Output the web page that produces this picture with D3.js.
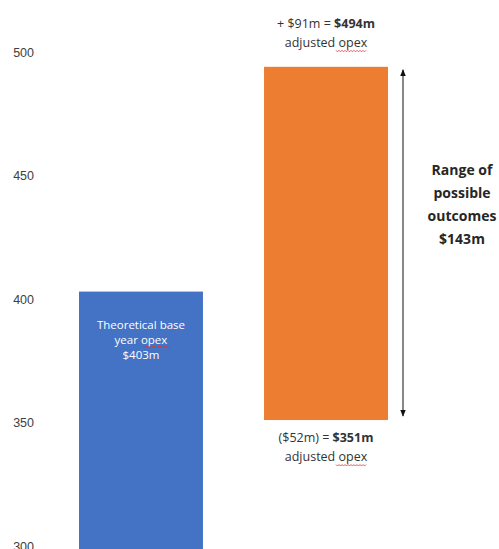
<!DOCTYPE html>
<html>
<head>
<meta charset="utf-8">
<script src="https://cdn.jsdelivr.net/npm/d3@7"></script>
<style>
  body { margin: 0; background: #fff; }
  svg { display: block; font-family: "Open Sans", "Liberation Sans", sans-serif; }
</style>
</head>
<body>
<svg id="chart" width="499" height="549"></svg>
<script>
var categories = ["Theoretical base year opex", "Adjusted opex range"];
var barLow = [null, 351];
var barHigh = [403, 494];
var tickValues = [300, 350, 400, 450, 500];
var rangeValue = 143;

var svg = d3.select("#chart"),
    width = 499,
    height = 549;

var y = d3.scaleLinear()
    .domain([300, 500])
    .range([546, 52]);

var x = d3.scaleBand()
    .domain(categories)
    .range([79, 388])
    .paddingInner(0.33)
    .paddingOuter(0);

// y axis, labels only
var axis = svg.append("g")
  .attr("transform", "translate(34,0)")
  .call(d3.axisLeft(y).tickValues(tickValues).tickSize(0).tickPadding(0));
axis.select(".domain").remove();
axis.selectAll("text")
  .attr("fill", "#404040")
  .attr("font-size", "12.5px")
  .attr("dy", "0.35em");

var colors = ["#4472C4", "#ED7D31"];

categories.forEach(function(c, i) {
  var top = y(barHigh[i]);
  var bottom = barLow[i] == null ? height : y(barLow[i]);
  svg.append("rect")
    .attr("x", x(c))
    .attr("y", top)
    .attr("width", x.bandwidth())
    .attr("height", bottom - top)
    .attr("fill", colors[i]);
});

function squiggle(g, x0, x1, yy) {
  var pts = [];
  for (var px = x0, k = 0; px <= x1; px += 1.5, k++) pts.push([px, yy + (k % 2 ? 1 : -0.5)]);
  g.append("path").attr("d", d3.line()(pts))
    .attr("fill", "none").attr("stroke", "#e03030").attr("stroke-width", 0.8);
}

// label inside blue bar
var b = categories[0];
var bx = x(b) + x.bandwidth() / 2;
var inner = svg.append("g").attr("fill", "#fff").attr("font-size", "11.5px").attr("text-anchor", "middle");
inner.append("text").attr("x", bx).attr("y", y(barHigh[0]) + 37).text("Theoretical base");
inner.append("text").attr("x", bx).attr("y", y(barHigh[0]) + 52).text("year opex");
inner.append("text").attr("x", bx).attr("y", y(barHigh[0]) + 67).text("$" + barHigh[0] + "m");
squiggle(svg, bx + 2, bx + 29, y(barHigh[0]) + 55);

// labels above and below orange bar
var o = categories[1];
var ox = x(o) + x.bandwidth() / 2;
var lab = svg.append("g").attr("fill", "#333").attr("font-size", "12.5px").attr("text-anchor", "middle");

var topText = lab.append("text").attr("x", ox).attr("y", y(barHigh[1]) - 39);
topText.append("tspan").text("+ $" + (barHigh[1] - barHigh[0]) + "m = ");
topText.append("tspan").attr("font-weight", "bold").text("$" + barHigh[1] + "m");
lab.append("text").attr("x", ox).attr("y", y(barHigh[1]) - 20).text("adjusted opex");
squiggle(svg, ox + 10, ox + 40, y(barHigh[1]) - 16);

var botText = lab.append("text").attr("x", ox).attr("y", y(barLow[1]) + 22);
botText.append("tspan").text("($" + (barHigh[0] - barLow[1]) + "m) = ");
botText.append("tspan").attr("font-weight", "bold").text("$" + barLow[1] + "m");
lab.append("text").attr("x", ox).attr("y", y(barLow[1]) + 41).text("adjusted opex");
squiggle(svg, ox + 10, ox + 40, y(barLow[1]) + 45);

// double-headed range arrow
var ax = x(o) + x.bandwidth() + 15;
svg.append("defs").append("marker")
  .attr("id", "head")
  .attr("viewBox", "0 0 10 10")
  .attr("refX", 9).attr("refY", 5)
  .attr("markerWidth", 7).attr("markerHeight", 7)
  .attr("orient", "auto-start-reverse")
  .append("path").attr("d", "M0,1L10,5L0,9Z").attr("fill", "#111");

svg.append("line")
  .attr("x1", ax).attr("x2", ax)
  .attr("y1", y(barHigh[1]) + 3)
  .attr("y2", y(barLow[1]) - 4)
  .attr("stroke", "#111").attr("stroke-width", 1)
  .attr("marker-start", "url(#head)")
  .attr("marker-end", "url(#head)");

var rangeLines = ["Range of", "possible", "outcomes", "$" + rangeValue + "m"];
svg.append("g")
  .attr("font-size", "14px").attr("font-weight", "bold").attr("fill", "#262626").attr("text-anchor", "middle")
  .selectAll("text").data(rangeLines).join("text")
  .attr("x", 462)
  .attr("y", function(d, i) { return 175 + i * 23; })
  .text(function(d) { return d; });
</script>
</body>
</html>
